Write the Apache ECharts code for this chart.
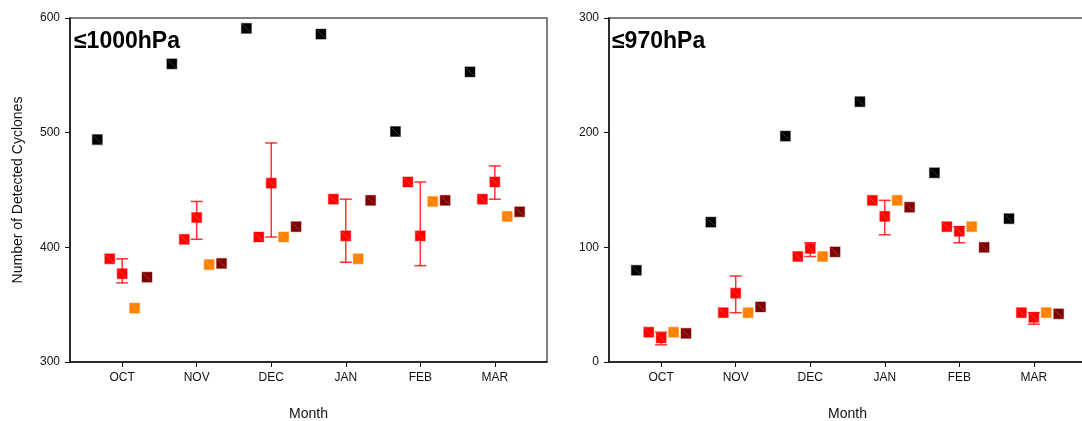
<!DOCTYPE html>
<html>
<head>
<meta charset="utf-8">
<script src="https://cdn.jsdelivr.net/npm/echarts@6/dist/echarts.min.js"></script>
<style>
  html, body { margin: 0; padding: 0; background: #fff; }
  #chart { width: 1082px; height: 421px; }
</style>
</head>
<body>
<div id="chart"></div>
<script>
const months = ['OCT', 'NOV', 'DEC', 'JAN', 'FEB', 'MAR']

// ≤1000hPa panel
const p1Black   = [494, 560, 591, 586, 501, 553]
const p1Red     = [390, 407, 409, 442, 457, 442]
const p1RedErr  = [377, 426, 456, 410, 410, 457]
const p1ErrLow  = [369, 407, 409, 387, 384, 442]
const p1ErrHigh = [390, 440, 491, 442, 457, 471]
const p1Orange  = [347, 385, 409, 390, 440, 427]
const p1Dark    = [374, 386, 418, 441, 441, 431]

// ≤970hPa panel
const p2Black   = [80, 122, 197, 227, 165, 125]
const p2Red     = [26, 43, 92, 141, 118, 43]
const p2RedErr  = [21, 60, 99, 127, 114, 39]
const p2ErrLow  = [15, 43, 92, 111, 104, 33]
const p2ErrHigh = [26, 75, 104, 141, 118, 43]
const p2Orange  = [26, 43, 92, 141, 118, 43]
const p2Dark    = [25, 48, 96, 135, 100, 42]

const FONT = '"Liberation Sans", Arial, sans-serif'
const chart = echarts.init(document.getElementById('chart'))

// marker offsets inside each month slot
const slots = [
  { vals: [p1Black, p2Black],   off: -1 / 3, color: '#000000', edge: 'rgba(0,0,0,0.35)' },
  { vals: [p1Red, p2Red],       off: -1 / 6, color: '#ff0000', edge: 'rgba(255,0,0,0.35)' },
  { vals: [p1RedErr, p2RedErr], off: 0,      color: '#ff0000', edge: 'rgba(255,0,0,0.35)' },
  { vals: [p1Orange, p2Orange], off: 1 / 6,  color: '#ff8000', edge: 'rgba(255,128,0,0.35)' },
  { vals: [p1Dark, p2Dark],     off: 1 / 3,  color: '#800000', edge: 'rgba(128,0,0,0.35)' }
]

function markerSeries(idx, s) {
  return {
    type: 'custom', xAxisIndex: idx, yAxisIndex: idx, z: 5,
    data: s.vals[idx].map((v, i) => [i + 1 + s.off, v]),
    renderItem: (params, api) => {
      const p = api.coord([api.value(0), api.value(1)])
      const h = 5
      return {
        type: 'group',
        children: [
          { type: 'rect', shape: { x: p[0] - h, y: p[1] - h, width: h * 2, height: h * 2 },
            style: { fill: s.color, stroke: s.edge, lineWidth: 1.2 } },
          { type: 'line', shape: { x1: p[0] - h + 1, y1: p[1] - h + 1, x2: p[0] + h - 1, y2: p[1] + h - 1 },
            style: { stroke: 'rgba(255,255,255,0.3)', lineWidth: 0.8 } }
        ]
      }
    }
  }
}

function errorSeries(idx, low, high) {
  return {
    type: 'custom', xAxisIndex: idx, yAxisIndex: idx, z: 3,
    data: low.map((v, i) => [i + 1, v, high[i]]),
    renderItem: (params, api) => {
      const a = api.coord([api.value(0), api.value(1)])
      const b = api.coord([api.value(0), api.value(2)])
      const w = 6
      const st = { stroke: 'rgba(255,0,0,0.8)', lineWidth: 1.5 }
      return {
        type: 'group',
        children: [
          { type: 'line', shape: { x1: a[0], y1: a[1], x2: b[0], y2: b[1] }, style: st },
          { type: 'line', shape: { x1: a[0] - w, y1: a[1], x2: a[0] + w, y2: a[1] }, style: st },
          { type: 'line', shape: { x1: b[0] - w, y1: b[1], x2: b[0] + w, y2: b[1] }, style: st }
        ]
      }
    }
  }
}

const xAxisBase = (idx) => ({
  type: 'value', gridIndex: idx, min: 0.3, max: 6.7,
  name: 'Month', nameLocation: 'middle', nameGap: 45,
  nameTextStyle: { fontFamily: FONT, fontSize: 14, color: '#111' },
  axisLine: { onZero: false, lineStyle: { color: '#111', width: 1.5 } },
  axisTick: { show: true, length: 5, customValues: [1, 2, 3, 4, 5, 6], lineStyle: { color: '#111' } },
  axisLabel: {
    customValues: [1, 2, 3, 4, 5, 6], margin: 10,
    fontFamily: FONT, fontSize: 12, color: '#111',
    formatter: v => months[Math.round(v) - 1]
  },
  splitLine: { show: false }
})

const yAxisBase = (idx, min, max) => ({
  type: 'value', gridIndex: idx, min, max, interval: 100,
  axisLine: { show: true, lineStyle: { color: '#111', width: 1.5 } },
  axisTick: { show: true, length: 5, lineStyle: { color: '#111' } },
  axisLabel: { fontFamily: FONT, fontSize: 12, color: '#111', margin: 10 },
  splitLine: { show: false }
})

const series = []
;[0, 1].forEach(idx => {
  series.push(idx === 0 ? errorSeries(0, p1ErrLow, p1ErrHigh) : errorSeries(1, p2ErrLow, p2ErrHigh))
  slots.forEach(s => series.push(markerSeries(idx, s)))
})

const yLeft = yAxisBase(0, 300, 600)
yLeft.name = 'Number of Detected Cyclones'
yLeft.nameLocation = 'middle'
yLeft.nameGap = 45
yLeft.nameTextStyle = { fontFamily: FONT, fontSize: 14, color: '#111' }

chart.setOption({
  animation: false,
  grid: [
    { left: 70, top: 18, width: 477, height: 344, outerBoundsMode: 'none', show: true, borderColor: '#555', borderWidth: 1.5 },
    { left: 609, top: 18, width: 477, height: 344, outerBoundsMode: 'none', show: true, borderColor: '#555', borderWidth: 1.5 }
  ],
  xAxis: [xAxisBase(0), xAxisBase(1)],
  yAxis: [yLeft, yAxisBase(1, 0, 300)],
  graphic: [
    { type: 'text', left: 74, top: 30, style: { text: '≤1000hPa', fontFamily: FONT, fontSize: 23, fontWeight: 'bold', fill: '#000' } },
    { type: 'text', left: 612, top: 30, style: { text: '≤970hPa', fontFamily: FONT, fontSize: 23, fontWeight: 'bold', fill: '#000' } }
  ],
  series
})
</script>
</body>
</html>
